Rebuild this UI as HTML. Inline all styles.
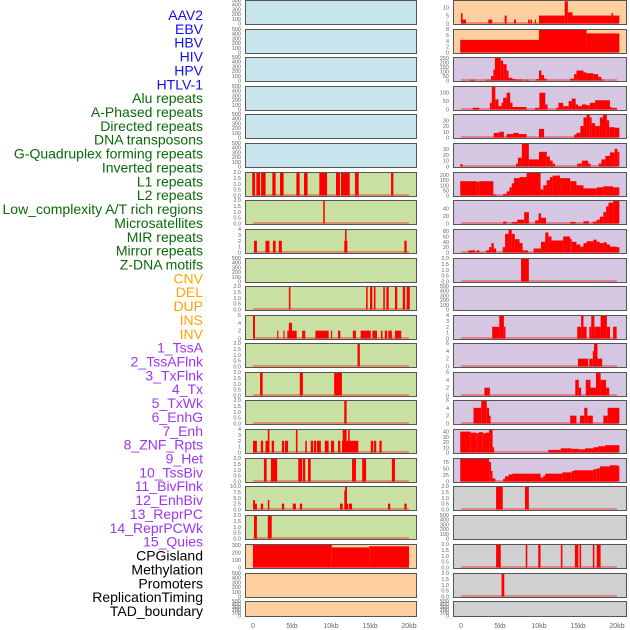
<!DOCTYPE html>
<html><head><meta charset="utf-8">
<style>
body{margin:0;background:#fff;width:630px;height:630px;overflow:hidden;font-family:"Liberation Sans",sans-serif}
svg{position:absolute;left:0;top:0}
</style></head>
<body>
<svg id="chart" width="630" height="630"></svg>
<script>
// ---------- labels ----------
const trackLabels = ["AAV2","EBV","HBV","HIV","HPV","HTLV-1","Alu repeats","A-Phased repeats","Directed repeats","DNA transposons","G-Quadruplex forming repeats","Inverted repeats","L1 repeats","L2 repeats","Low_complexity A/T rich regions","Microsatellites","MIR repeats","Mirror repeats","Z-DNA motifs","CNV","DEL","DUP","INS","INV","1_TssA","2_TssAFlnk","3_TxFlnk","4_Tx","5_TxWk","6_EnhG","7_Enh","8_ZNF_Rpts","9_Het","10_TssBiv","11_BivFlnk","12_EnhBiv","13_ReprPC","14_ReprPCWk","15_Quies","CPGisland","Methylation","Promoters","ReplicationTiming","TAD_boundary"];
const labelGroups = [6,13,5,15,5];
const groupColors = ["#1010ee","#0a6a0a","#ffa500","#a035f0","#000000"];

// ---------- x axis ----------
const xTicks = [0,5,10,15,20];
const xTickLabels = ["0","5kb","10kb","15kb","20kb"];

// ---------- left column data: [startKb, endKb, value] ----------
const left07 = [[-0.1,0.26,2],[0.43,0.9,2],[1.03,1.62,2],[2.48,2.9,2],[3.46,3.93,2],[5.56,5.98,2],[6.54,7.0,2],[8.5,9.5,2],[10.64,11.15,2],[11.28,12.4,2],[13.08,13.55,2],[17.7,18.0,2]];
const left08 = [[9.0,9.2,2]];
const left09 = [[0.13,0.5,2],[1.6,2.1,2],[2.56,2.9,2],[3.3,3.7,2],[11.7,12.1,2],[11.8,12.0,4],[19.4,19.7,2]];
const left11 = [[4.6,4.8,2],[14.5,14.7,2],[15.0,15.3,2],[15.5,15.7,2],[16.7,16.9,2],[17.1,17.4,2],[18.2,18.5,2],[19.2,19.5,2],[19.7,20.1,2]];
const left12 = [[0,0.25,6],[3.1,3.25,2],[3.9,4.05,2],[4.4,5.6,2],[4.6,5.0,4],[6.3,6.7,2],[8.0,9.7,2],[10.0,10.15,2],[10.9,11.2,2],[12.8,13.2,2],[13.8,15.1,2],[15.3,15.9,2],[16.4,16.6,2],[16.9,17.2,2],[17.35,17.8,2],[18.2,19.0,2]];
const left13 = [[13.4,13.7,2]];
const left14 = [[0.9,1.24,2],[6.0,6.4,2],[10.4,11.4,2]];
const left15 = [[11.7,12.0,2]];
const left16 = [[0,0.5,2],[1.0,1.3,2],[1.6,2.1,2],[1.9,2.1,4],[2.4,2.7,2],[3.7,4.0,2],[4.1,4.5,2],[5.5,5.7,4],[6.7,6.9,2],[7.4,7.7,2],[7.8,8.1,2],[8.2,8.7,2],[9.2,9.7,2],[10.0,10.4,2],[10.9,11.2,2],[11.4,13.5,2],[11.5,12.0,4],[12.2,12.4,4],[15.1,15.4,2],[15.5,15.8,2],[16.2,16.5,2]];
const left17 = [[1.4,1.75,2],[2.3,3.1,2],[5.8,6.3,2],[6.4,6.7,2],[7.05,7.4,2],[12.7,13.2,2],[14.0,14.5,2],[17.8,18.2,2]];
const left18 = [[0,0.25,4],[0.25,0.5,2.5],[1.0,1.3,2.5],[1.9,2.1,4],[3.7,4.0,2.5],[5.1,5.5,2.5],[6.0,6.3,2.5],[11.15,11.5,2.5],[11.7,11.8,8],[11.8,12.05,10],[12.05,12.2,2.5],[12.3,12.7,2.5],[17.3,17.6,2.5],[19.4,19.7,2.5]];
const left19 = [[0.13,0.5,2],[1.9,2.4,2]];
const left20 = [[0,10.1,310],[10.1,14.9,265],[14.9,20.0,280]];

// ---------- right column data ----------
const right01 = [[0,0.2,6.5],[0.2,0.64,2.5],[3.5,4.0,2.5],[5.6,5.85,5],[6.8,7.05,2.5],[8.6,8.8,2.5],[8.9,9.1,2.5],[9.45,9.6,2.5],[10,13.3,5],[13.3,13.7,14],[13.7,14.3,7],[14.3,19.3,5],[19.3,19.5,6.5],[19.5,20.3,5]];
const right02 = [[-0.1,10,4.3],[10,16.1,8],[16.1,20.3,6.5]];
const right03 = [[1.15,1.8,8],[3.2,3.85,8],[3.85,4.15,50],[4.15,4.35,120],[4.35,5.1,260],[5.1,5.4,220],[5.4,5.85,180],[5.85,6.1,110],[6.1,6.6,30],[6.6,7.1,15],[7.1,8.0,10],[8.2,8.7,8],[9.6,10,15],[10,10.3,110],[10.3,10.65,60],[10.65,10.98,20],[14,14.5,20],[14.5,14.8,70],[14.8,15.7,110],[15.7,16.1,90],[16.1,16.97,80],[16.97,17.6,70],[17.6,18.0,40],[18.0,18.3,10]];
const right04 = [[1.5,2.35,10],[3.7,3.95,40],[3.95,4.4,140],[4.4,4.8,60],[4.8,5.2,20],[5.2,5.4,40],[5.4,5.85,70],[5.85,6.3,100],[6.3,6.6,40],[6.6,8.4,15],[9.5,10.05,10],[10.05,10.8,100],[10.8,11.1,30],[12.2,12.5,10],[12.5,13.1,40],[13.1,13.8,20],[13.8,14.2,50],[14.2,14.7,65],[14.7,15.0,30],[15.0,15.5,20],[15.5,16.1,30],[16.1,16.5,25],[16.5,17.2,40],[17.2,19.1,55],[19.1,19.3,15],[19.3,20.0,10]];
const right05 = [[4.2,4.9,8],[4.9,5.5,10],[5.85,6.7,6],[6.7,7.4,8],[7.4,8.4,6],[10,10.65,15],[14.5,14.8,5],[14.8,15.3,8],[15.3,15.7,20],[15.7,16.1,35],[16.1,16.5,40],[16.5,16.75,35],[16.75,17.2,25],[17.2,17.8,20],[17.8,18.2,35],[18.2,18.7,40],[18.7,19.0,30],[19.0,19.7,18],[19.7,20.3,17]];
const right06 = [[-0.1,0.2,4],[7.05,7.3,5],[7.3,7.8,15],[7.8,8.7,40],[8.7,10,12],[10,11,25],[11,11.4,17],[11.4,11.75,10],[11.75,12.05,5],[14.9,15.5,5],[15.5,16.3,10],[16.3,16.6,5],[17.65,18.0,5],[18.0,18.5,12],[18.5,19.1,18],[19.1,19.7,24],[19.7,20.05,30],[20.05,20.3,25]];
const right07 = [[-0.1,2.0,140],[2.0,2.35,135],[2.35,4.15,140],[4.15,4.5,10],[5.4,5.85,15],[5.85,6.2,40],[6.2,6.5,80],[6.5,6.8,120],[6.8,7.5,170],[7.5,8.4,180],[8.4,10.2,230],[10.2,10.55,60],[10.55,10.98,100],[10.98,11.4,150],[11.4,11.75,180],[11.75,12.7,195],[12.7,14.0,170],[14.0,14.8,140],[14.8,15.7,100],[15.7,17.4,70],[17.4,18.25,80],[18.25,19.5,90],[19.5,20.3,80]];
const right08 = [[5.4,5.85,5],[6.5,7.2,4],[7.2,8.1,10],[8.1,8.7,30],[9.5,9.95,8],[9.95,10.25,27],[10.25,10.9,15],[14,14.7,4],[15.7,16.4,6],[16.9,17.4,5],[17.4,17.8,10],[17.8,18.25,18],[18.25,18.6,30],[18.6,18.9,45],[18.9,19.5,55],[19.5,20.3,60]];
const right09 = [[0.95,1.8,8],[2.0,2.35,8],[3.2,3.6,8],[3.6,3.9,20],[3.9,4.2,35],[4.2,4.5,15],[5.35,5.65,20],[5.65,6.1,70],[6.1,6.5,85],[6.5,6.9,70],[6.9,7.5,50],[7.5,7.9,35],[7.9,8.6,8],[9.3,10.25,15],[10.25,10.8,40],[10.8,11.2,75],[11.2,11.6,60],[11.6,13.1,45],[13.1,14.0,60],[14.0,14.2,50],[14.2,14.8,40],[14.8,15.3,30],[15.3,15.7,22],[15.7,16.1,35],[16.1,16.97,42],[16.97,17.4,48],[17.4,17.8,40],[17.8,18.25,35],[18.25,18.7,38],[18.7,19.1,30],[19.1,19.95,22],[19.95,20.3,20]];
const right10 = [[7.7,8.7,2]];
const right12 = [[4.0,4.9,2],[4.9,5.5,4],[5.5,5.7,2],[14.9,15.4,2],[15.4,15.7,4],[15.7,16.1,2],[16.45,16.7,2],[16.7,17.1,4],[17.1,17.9,2],[17.9,18.7,4],[18.7,19.1,2],[19.5,19.95,2]];
const right13 = [[15.0,16.3,2],[16.45,16.9,2],[16.9,17.05,4],[17.05,17.5,6],[17.5,18.1,2]];
const right14 = [[3.0,3.7,2],[14.65,15.1,4],[15.1,15.4,2],[16.0,16.6,4],[16.6,17.3,2],[17.3,17.9,6],[17.9,18.6,4],[18.6,19.0,2]];
const right15 = [[1.6,2.6,4],[2.6,3.3,6],[3.3,3.6,4],[3.6,3.8,2],[14.0,14.8,2],[15.25,15.8,2],[15.8,16.2,4],[16.2,16.9,2],[18.25,18.8,2],[18.8,20.3,4]];
const right16 = [[-0.1,1.25,40],[1.25,1.95,38],[1.95,2.3,37],[2.3,2.8,39],[2.8,3.2,37],[3.2,3.6,38],[3.6,4.05,44],[4.05,4.25,10],[11.2,12.8,5],[12.8,14.2,8],[14.2,15.1,7],[15.1,15.9,6],[15.9,17.0,8],[17.0,17.6,10],[17.6,18.45,12],[18.45,20.3,14]];
const right17 = [[-0.1,3.6,90],[3.6,3.85,75],[3.85,4.05,40],[4.05,4.4,12],[5.4,5.65,10],[5.65,6.1,20],[6.1,6.6,27],[6.6,10.2,30],[10.2,10.55,15],[10.55,10.8,22],[10.8,13.0,30],[13.0,14.2,35],[14.2,14.5,40],[14.5,16.97,43],[16.97,17.4,47],[17.4,17.8,50],[17.8,19.1,58],[19.1,20.2,62],[20.2,20.3,58]];
const right18 = [[4.5,5.35,2],[8.2,8.7,2]];
const right20 = [[4.5,5.1,2],[8.3,8.5,2],[9.9,10.2,2],[12.8,13.0,2],[14.6,15.05,2],[15.2,15.4,2],[16.9,17.1,2],[17.4,17.9,2]];
const right21 = [[5.2,5.55,2]];

// ---------- tick sets ----------
const tEmpty=[0,100,200,300,400,500], t2=[0,0.5,1,1.5,2], t4=[0,1,2,3,4], t6=[0,2,4,6];

const panelTops = [0,29,57,86,114,143,172,200,229,258,286,315,343,372,400,429,458,486,515,544,573,601];
const leftData = [null,null,null,null,null,null,left07,left08,left09,null,left11,left12,left13,left14,left15,left16,left17,left18,left19,left20,null,null];
const leftMax  = [500,500,500,500,500,500,2,2,4,500,2,6,2,2,2,4,2,10,2,310,500,500];
const leftTicks= [tEmpty,tEmpty,tEmpty,tEmpty,tEmpty,tEmpty,t2,t2,t4,tEmpty,t2,t6,t2,t2,t2,t4,t2,[0,2.5,5,7.5,10],t2,[0,100,200,300],tEmpty,tEmpty];
const leftBg = ["#c8e4ec","#c8e4ec","#c8e4ec","#c8e4ec","#c8e4ec","#c8e4ec","#c8e0a2","#c8e0a2","#c8e0a2","#c8e0a2","#c8e0a2","#c8e0a2","#c8e0a2","#c8e0a2","#c8e0a2","#c8e0a2","#c8e0a2","#c8e0a2","#c8e0a2","#fecf9f","#fecf9f","#fecf9f"];
const rightData = [right01,right02,right03,right04,right05,right06,right07,right08,right09,right10,null,right12,right13,right14,right15,right16,right17,right18,null,right20,right21,null];
const rightMax  = [14.8,8,260,140,41,40,230,62,88,2,500,4,6,6,6,45,90,2,500,2,2,500];
const rightTicks= [[0,5,10],[0,2,4,6,8],[0,50,100,150,200,250],[0,50,100],[0,10,20,30],[0,10,20,30],[0,50,100,150,200],[0,20,40],[0,20,40,60,80],t2,tEmpty,t4,t6,t6,t6,[0,10,20,30,40],[0,25,50,75],t2,tEmpty,t2,t2,tEmpty];
const rightBg = ["#fecf9f","#fecf9f","#d5c6e1","#d5c6e1","#d5c6e1","#d5c6e1","#d5c6e1","#d5c6e1","#d5c6e1","#d5c6e1","#d5c6e1","#d5c6e1","#d5c6e1","#d5c6e1","#d5c6e1","#d5c6e1","#d5c6e1","#d0d0d0","#d0d0d0","#d0d0d0","#d0d0d0","#d0d0d0"];

const NS="http://www.w3.org/2000/svg";
const svg=document.getElementById('chart');
function mk(tag,attrs,parent){const e=document.createElementNS(NS,tag);for(const k in attrs)e.setAttribute(k,attrs[k]);(parent||svg).appendChild(e);return e;}

// labels
let li=0;
labelGroups.forEach((n,g)=>{for(let k=0;k<n;k++){
  const t=mk('text',{x:203,y:15+li*13.86+5,'text-anchor':'end','font-size':'14',fill:groupColors[g],'font-family':'Liberation Sans, sans-serif'});
  t.textContent=trackLabels[li];
  
  
  li++;}});

function drawColumn(side,x0,x1,kb0,kb20,data,maxs,ticks,bgs){
  const xs=kb=>kb0+kb*(kb20-kb0)/20;
  panelTops.forEach((top,i)=>{
    const h=(i===panelTops.length-1)?16:25;
    const g=mk('g',{});
    
    
    const bg=mk('rect',{x:x0,y:top,width:x1-x0,height:h,fill:bgs[i]},g);
    
    
    const yb=top+h-1.5, ymax=maxs[i];
    const ys=v=>yb-(v/ymax)*(h-1.5);
    if(data[i]){
      const bl=mk('rect',{x:xs(0),y:yb-1.5,width:xs(20)-xs(0),height:2,fill:'#ff0000',opacity:0.35},g);
      
      
      data[i].forEach(s=>{
        const yt=Math.max(top,ys(s[2]));
        const r=mk('rect',{x:xs(s[0]),y:yt,width:Math.max(0.8,xs(s[1])-xs(s[0])),height:yb-yt,fill:'#ff0000'},g);
        
        
      });
    }
    const br=mk('rect',{x:x0+0.5,y:top+0.5,width:x1-x0-1,height:h-1,fill:'none',stroke:'#555',"stroke-width":1},g);
    
    
    const dec=ticks[i].some(v=>v%1!==0);
    ticks[i].forEach(tv=>{
      const t=mk('text',{x:x0-4,y:ys(tv)+2,'text-anchor':'end','font-size':'5.5',fill:'#666'},g);
      t.textContent=dec?tv.toFixed(1):String(tv);
      
      
    });
  });
  xTicks.forEach((kb,j)=>{
    const t=mk('text',{x:xs(kb),y:628,'text-anchor':'middle','font-size':'7',fill:'#666'});
    t.textContent=xTickLabels[j];
    
    
  });
}
drawColumn('left',245,417,253,409,leftData,leftMax,leftTicks,leftBg);
drawColumn('right',453,627,461,617,rightData,rightMax,rightTicks,rightBg);
</script>
</body></html>
